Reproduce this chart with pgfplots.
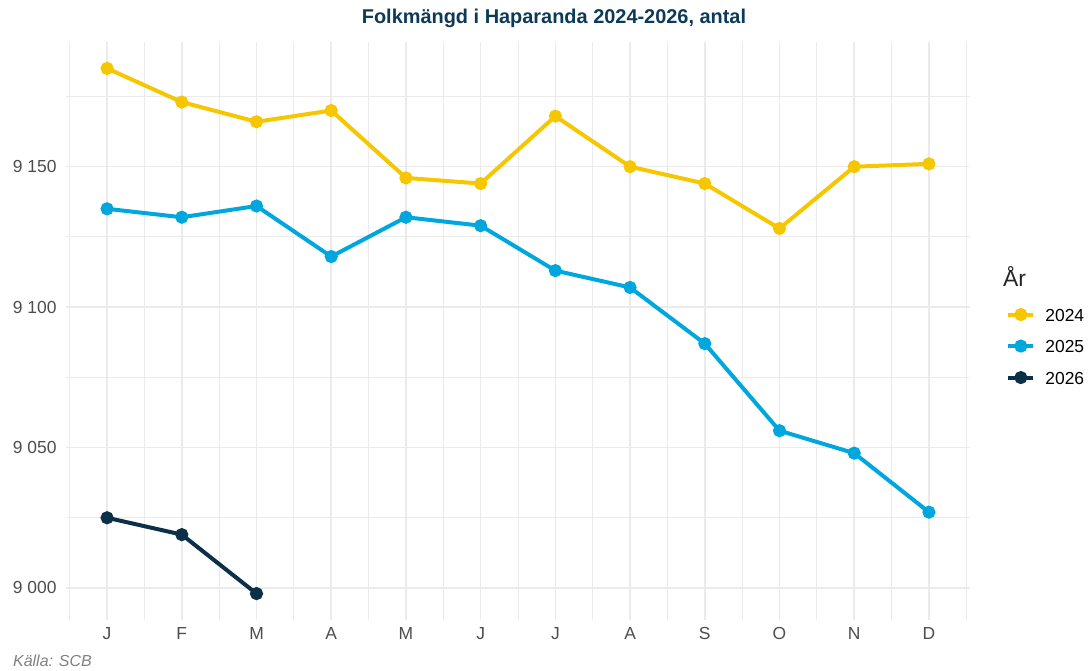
\documentclass[border=0pt]{standalone}
\usepackage{fontspec}
\setmainfont{Liberation Sans}
\usepackage{pgfplots}
\pgfplotsset{compat=1.18}
\definecolor{c2024}{HTML}{F6C700}
\definecolor{c2025}{HTML}{00A7DE}
\definecolor{c2026}{HTML}{0B3048}
\definecolor{titlec}{HTML}{0D3A57}
\definecolor{gridc}{HTML}{EBEBEB}
\definecolor{tickc}{HTML}{4D4D4D}
\begin{document}
\begin{tikzpicture}[x=1bp,y=1bp]
\path[use as bounding box] (0,0) rectangle (1088,671);
\begin{axis}[at={(66bp,51bp)}, anchor=south west, scale only axis, width=904bp, height=578bp,
 xmin=0.45, xmax=12.55, ymin=8988.6, ymax=9194.4,
 xtick={1,...,12}, xticklabels={J,F,M,A,M,J,J,A,S,O,N,D},
 minor xtick={0.5,1.5,...,12.5},
 ytick={9000,9050,9100,9150}, yticklabels={9~000,9~050,9~100,9~150},
 minor ytick={9025,9075,9125,9175},
 grid=both, major grid style={gridc, line width=1.5bp}, minor grid style={gridc, line width=1bp},
 axis line style={draw=none}, major tick length=0pt, minor tick length=0pt,
 tick label style={font=\fontsize{17.5}{21}\selectfont, text=tickc},
 xticklabel style={yshift=-4bp}, yticklabel style={xshift=-6bp},
 legend style={at={(axis description cs:1.04,0.540)}, anchor=north west, draw=none, fill=none,
   inner sep=0pt, row sep=18.5bp, column sep=10bp,
   nodes={inner sep=0pt, text height=13bp, text depth=0pt, anchor=west, font=\fontsize{17.5}{21}\selectfont}},
 legend cell align=left,
 legend image code/.code={\draw[#1, mark=none] (0bp,0bp) -- (25bp,0bp); \fill[#1] (12.5bp,0bp) circle (4.5bp);},
]
\addplot[c2024, line width=4bp, mark=*, mark size=4.5bp, mark options={draw=none, fill=c2024}] coordinates {
(1,9185) (2,9173) (3,9166) (4,9170) (5,9146) (6,9144) (7,9168) (8,9150) (9,9144) (10,9128) (11,9150) (12,9151)};
\addlegendentry{2024}
\addplot[c2025, line width=4bp, mark=*, mark size=4.5bp, mark options={draw=none, fill=c2025}] coordinates {
(1,9135) (2,9132) (3,9136) (4,9118) (5,9132) (6,9129) (7,9113) (8,9107) (9,9087) (10,9056) (11,9048) (12,9027)};
\addlegendentry{2025}
\addplot[c2026, line width=4bp, mark=*, mark size=4.5bp, mark options={draw=none, fill=c2026}] coordinates {
(1,9025) (2,9019) (3,8998)};
\addlegendentry{2026}
\end{axis}
\node[font=\bfseries\fontsize{20}{24}\selectfont, text=titlec] at (554,653) {Folkmängd i Haparanda 2024-2026, antal};
\node[anchor=west, inner sep=0pt, font=\fontsize{23}{27}\selectfont, text=black!85] at (1003,394) {År};
\node[anchor=west, inner sep=0pt, font=\itshape\fontsize{16}{19}\selectfont, text=black!50] at (13,10) {Källa: SCB};
\end{tikzpicture}
\end{document}
